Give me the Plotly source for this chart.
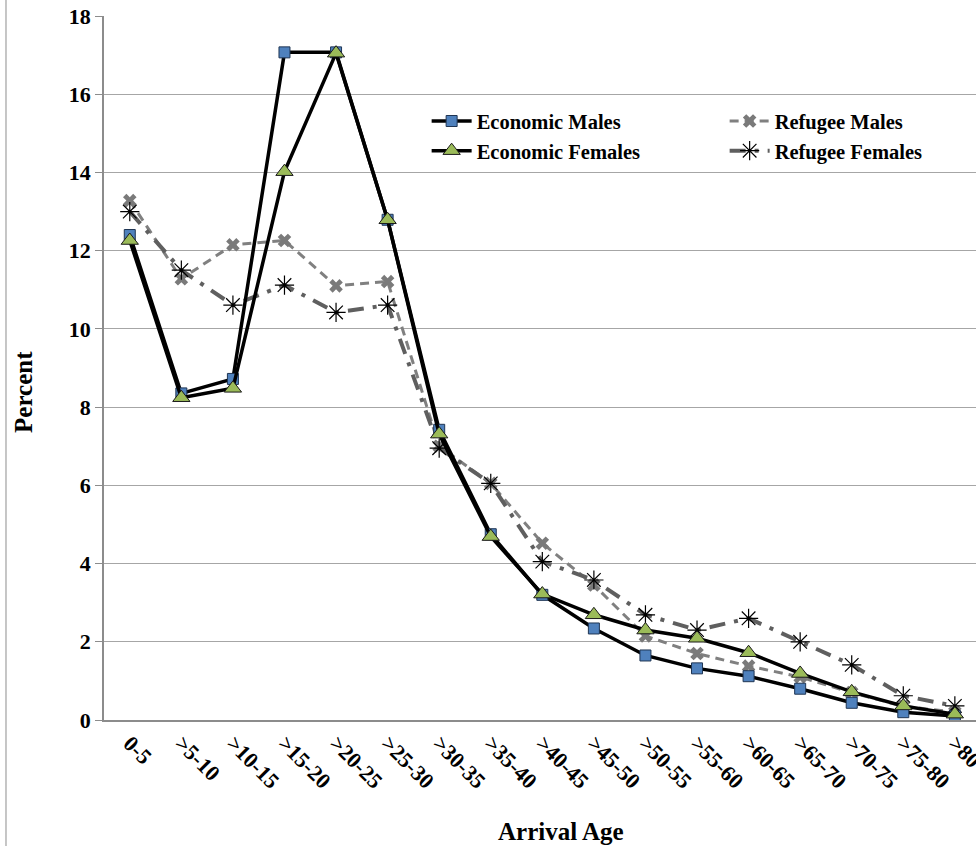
import plotly.graph_objects as go

categories = ["0-5", ">5-10", ">10-15", ">15-20", ">20-25", ">25-30", ">30-35", ">35-40",
              ">40-45", ">45-50", ">50-55", ">55-60", ">60-65", ">65-70", ">70-75", ">75-80", ">80"]

economic_males = [12.4, 8.35, 8.72, 17.07, 17.07, 12.79, 7.42, 4.75, 3.2, 2.34, 1.65, 1.32, 1.12, 0.80, 0.44, 0.2, 0.1]
economic_females = [12.26, 8.24, 8.48, 14.02, 17.05, 12.79, 7.31, 4.69, 3.22, 2.69, 2.3, 2.09, 1.72, 1.19, 0.72, 0.36, 0.15]
refugee_males = [13.28, 11.28, 12.15, 12.26, 11.1, 11.21, 7.0, 6.05, 4.52, 3.45, 2.15, 1.7, 1.38, 1.1, 0.7, 0.35, 0.2]
refugee_females = [13.0, 11.5, 10.61, 11.12, 10.42, 10.61, 6.95, 6.05, 4.05, 3.58, 2.69, 2.3, 2.6, 2.0, 1.41, 0.62, 0.36]

FONT = "Liberation Serif"

fig = go.Figure()

fig.add_trace(go.Scatter(
    x=categories, y=refugee_males, name="Refugee Males", mode="lines+markers",
    line=dict(color="#808080", width=3, dash="9px,6px"),
    marker=dict(symbol="x", size=12, color="#7a7a7a", line=dict(width=0)),
    legendrank=2,
))
fig.add_trace(go.Scatter(
    x=categories, y=refugee_females, name="Refugee Females", mode="lines+markers",
    line=dict(color="#5f5f5f", width=4, dash="16px,9px,4px,9px"),
    marker=dict(symbol="asterisk-open", size=16, color="#000000", line=dict(width=1.2, color="#000000")),
    legendrank=4,
))
fig.add_trace(go.Scatter(
    x=categories, y=economic_males, name="Economic Males", mode="lines+markers",
    line=dict(color="#000000", width=3.5),
    marker=dict(symbol="square", size=11, color="#4F81BD", line=dict(width=1, color="#1f3553")),
    legendrank=1,
))
fig.add_trace(go.Scatter(
    x=categories, y=economic_females, name="Economic Females", mode="lines+markers",
    line=dict(color="#000000", width=3.5),
    marker=dict(symbol="triangle-up", size=15, color="#9BBB59", line=dict(width=1, color="#1a1a1a")),
    legendrank=3,
))

fig.update_layout(
    width=976, height=846,
    margin=dict(l=104, r=0, t=16, b=126, autoexpand=False),
    paper_bgcolor="white", plot_bgcolor="white",
    font=dict(family=FONT, size=20, color="black"),
    showlegend=True,
    legend=dict(
        orientation="h", x=0.37, y=0.879, xanchor="left", yanchor="top",
        entrywidth=243, entrywidthmode="pixels",
        font=dict(family=FONT, size=20.5, color="black", weight="bold"),
        bgcolor="rgba(0,0,0,0)", tracegroupgap=0, itemwidth=40,
    ),
    xaxis=dict(
        type="category", range=[-0.5, 16.41], automargin=False,
        tickangle=45, showgrid=False, showline=True, linecolor="#8c8c8c", linewidth=1.5,
        ticks="", tickfont=dict(family=FONT, size=22, color="black", weight="bold"),
        zeroline=False,
    ),
    yaxis=dict(
        range=[0, 18], dtick=2, showgrid=True, gridcolor="#a6a6a6", gridwidth=1.2, automargin=False,
        showline=True, linecolor="#8c8c8c", linewidth=1.5,
        ticks="outside", ticklen=7, tickcolor="#8c8c8c", tickwidth=1.2,
        tickfont=dict(family=FONT, size=22, color="black", weight="bold"),
        zeroline=False,
    ),
    annotations=[
        dict(text="Arrival Age", xref="paper", yref="paper", x=0.524, y=-0.159,
             xanchor="center", yanchor="middle", showarrow=False,
             font=dict(family=FONT, size=25, color="black", weight="bold")),
        dict(text="Percent", xref="paper", yref="paper", x=-0.0917, y=0.466, textangle=-90,
             xanchor="center", yanchor="middle", showarrow=False,
             font=dict(family=FONT, size=25, color="black", weight="bold")),
    ],
    shapes=[dict(type="line", xref="paper", yref="paper", x0=-0.1124, x1=-0.1124, y0=-0.2, y1=1.03,
                 line=dict(color="#a0a0a0", width=1.2))],
)

fig.write_html("out.html")
